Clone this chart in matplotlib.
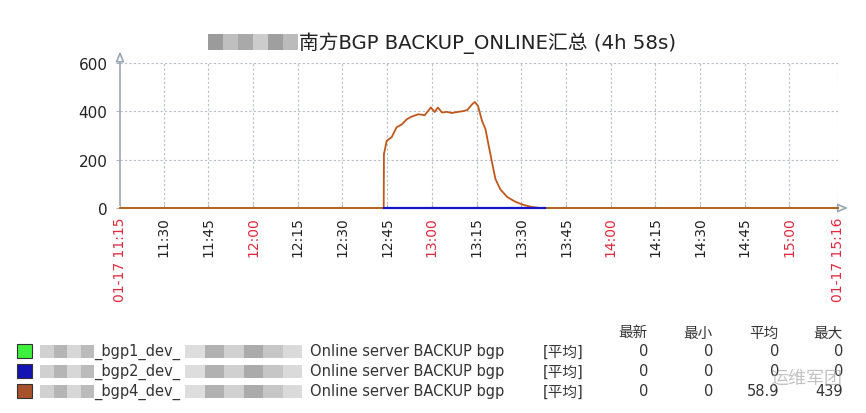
import matplotlib
matplotlib.use("Agg")
import matplotlib.pyplot as plt
import matplotlib.dates as mdates
from matplotlib.patches import Rectangle
import pandas as pd

plt.rcParams['font.family'] = ['DejaVu Sans', 'Noto Sans CJK SC']

# ---- data ----
title = "南方BGP BACKUP_ONLINE汇总 (4h 58s)"
range_start = "2024-01-17 11:15:20"
range_end = "2024-01-17 15:16:18"

bgp4_times = ["11:15:20", "12:43:50", "12:43:55", "12:44:50", "12:46:30", "12:48:10",
              "12:49:55", "12:51:35", "12:53:10", "12:55:30", "12:57:35", "12:59:40",
              "13:00:55", "13:02:00", "13:03:25", "13:05:00", "13:06:40", "13:08:20",
              "13:10:05", "13:11:50", "13:13:30", "13:14:25", "13:15:30", "13:16:50",
              "13:18:00", "13:19:05", "13:20:10", "13:21:20", "13:22:55", "13:25:20",
              "13:28:00", "13:30:55", "13:33:40", "13:36:25", "15:16:18"]
bgp4_values = [0, 0, 223, 278, 293, 334, 346, 367, 378, 388, 384, 416,
               397, 416, 395, 398, 393, 397, 400, 405, 429, 439, 422, 360,
               326, 257, 190, 120, 78, 45, 26, 12, 4, 0, 0]

bgp2_times = ["12:43:50", "13:38:00"]
bgp2_values = [0, 0]

bgp1_times = ["11:15:20", "15:16:18"]
bgp1_values = [0, 0]

series_names = ["_bgp1_dev_", "_bgp2_dev_", "_bgp4_dev_"]
series_desc = "Online server BACKUP bgp"
series_colors = ["#3ef03e", "#1414b4", "#a8522a"]
line_colors = ["#3ef03e", "#1414c8", "#c0581c"]
stat_headers = ["最新", "最小", "平均", "最大"]
stat_last = ["0", "0", "0"]
stat_min = ["0", "0", "0"]
stat_avg = ["0", "0", "58.9"]
stat_max = ["0", "0", "439"]

day = "2024-01-17 "
t1 = pd.to_datetime([day + t for t in bgp1_times])
t2 = pd.to_datetime([day + t for t in bgp2_times])
t4 = pd.to_datetime([day + t for t in bgp4_times])
x0 = pd.Timestamp(range_start)
x1 = pd.Timestamp(range_end)

W, H = 866, 414
fig = plt.figure(figsize=(W / 100, H / 100), dpi=100)


def fx(px):
    return px / W


def fy(py):
    return 1 - py / H


ax = fig.add_axes([fx(120), fy(209), fx(838) - fx(120), fy(64) - fy(209)])

ax.plot(t1, bgp1_values, color=line_colors[0], lw=1.3, zorder=3, clip_on=False)
ax.plot(t4, bgp4_values, color=line_colors[2], lw=1.3, zorder=4, clip_on=False)
ax.plot(t2, bgp2_values, color=line_colors[1], lw=1.6, zorder=5, clip_on=False)

ax.set_xlim(x0, x1)
ax.set_ylim(0, 600)

# ticks
inner = pd.date_range("2024-01-17 11:30", "2024-01-17 15:00", freq="15min")
ticks = [x0] + list(inner) + [x1]
labels = ["01-17 11:15"] + [t.strftime("%H:%M") for t in inner] + ["01-17 15:16"]
ax.set_xticks(mdates.date2num(ticks))
ax.set_xticklabels(labels, rotation=90, fontsize=10, va="top")
for lab, t in zip(ax.get_xticklabels(), ticks):
    if t in (x0, x1) or t.minute == 0:
        lab.set_color("#e0283c")
    else:
        lab.set_color("#222222")
ax.tick_params(axis="x", direction="in", length=3, color="#aab4bf", pad=6)

ax.set_yticks([0, 200, 400, 600])
ax.set_yticklabels(["0", "200", "400", "600"], fontsize=11, color="#222222")
ax.tick_params(axis="y", direction="out", length=3, color="#aab4bf", pad=6)

for t in inner:
    ax.axvline(t, color="#b8bec6", lw=0.8, ls=(0, (2, 2)), zorder=1)
ax.axvline(x1, color="#b8bec6", lw=0.8, ls=(0, (2, 2)), zorder=1)
for v in [200, 400, 600]:
    ax.axhline(v, color="#b8bec6", lw=0.8, ls=(0, (2, 2)), zorder=1)

for s in ax.spines.values():
    s.set_visible(False)

axis_col = "#9aa8b6"
ax.annotate("", xy=(0, 1.1), xytext=(0, 0), xycoords="axes fraction",
            arrowprops=dict(arrowstyle="-|>,head_length=0.6,head_width=0.25",
                            ec=axis_col, fc="white", lw=1.2), annotation_clip=False,
            zorder=2)
ax.annotate("", xy=(1.018, 0), xytext=(0, 0), xycoords="axes fraction",
            arrowprops=dict(arrowstyle="-|>,head_length=0.6,head_width=0.25",
                            ec=axis_col, fc="white", lw=1.2), annotation_clip=False,
            zorder=2)

# title with redacted prefix
fig.text(fx(299), fy(43), title, fontsize=14.2, ha="left", va="center", color="#222222")


def blur(x, y, w, h, shades):
    n = len(shades)
    for i, c in enumerate(shades):
        fig.patches.append(Rectangle((fx(x + i * w / n), fy(y + h / 2)), w / n / W, h / H,
                                     transform=fig.transFigure, facecolor=c,
                                     edgecolor="none", alpha=0.85))


blur(208, 43, 90, 16, ["#8a8a8a", "#b4b4b4", "#9a9a9a", "#c4c4c4", "#8e8e8e", "#b0b0b0"])

# legend table
rows_y = [352, 372, 392]
fs = 10.5
for i, y in enumerate(rows_y):
    fig.patches.append(Rectangle((fx(17), fy(y + 7)), 15 / W, 14 / H,
                                 transform=fig.transFigure, facecolor=series_colors[i],
                                 edgecolor="#333333", lw=0.8))
    blur(40, y, 54, 13, ["#c8c8c8", "#a8a8a8", "#d0d0d0", "#b0b0b0"])
    fig.text(fx(94), fy(y), series_names[i], fontsize=fs, ha="left", va="center", color="#333333")
    blur(185, y, 117, 13, ["#d8d8d8", "#a4a4a4", "#c8c8c8", "#9c9c9c", "#bcbcbc", "#d4d4d4"])
    fig.text(fx(310), fy(y), series_desc, fontsize=fs, ha="left", va="center", color="#333333")
    fig.text(fx(543), fy(y), "[平均]", fontsize=fs, ha="left", va="center", color="#333333")
    for xr, col in zip([648, 713, 779, 843], [stat_last, stat_min, stat_avg, stat_max]):
        fig.text(fx(xr), fy(y), col[i], fontsize=fs, ha="right", va="center", color="#333333")

for xr, h in zip([648, 713, 779, 843], stat_headers):
    fig.text(fx(xr), fy(333), h, fontsize=fs, ha="right", va="center", color="#333333")

# watermark
fig.text(fx(770), fy(379), "运维军团", fontsize=13, ha="left", va="center",
         color="#9a9a9a", alpha=0.6)

fig.savefig("out.png", dpi=100)
